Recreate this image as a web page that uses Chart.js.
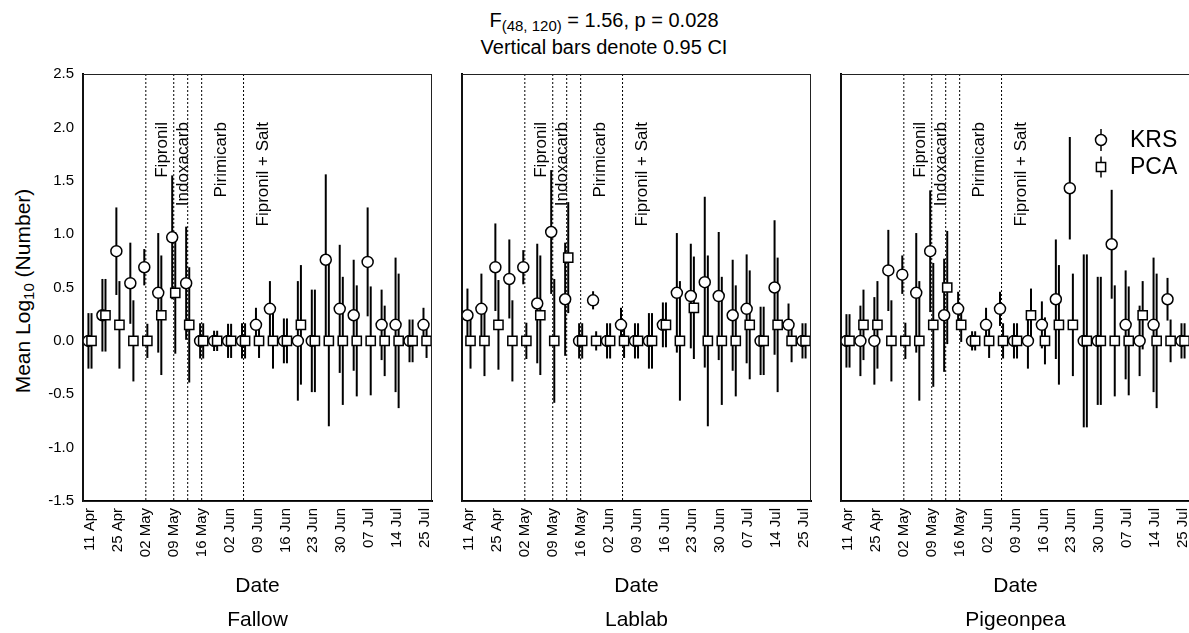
<!DOCTYPE html>
<html>
<head>
<meta charset="utf-8">
<title>Mean Log10 (Number) by sampling date</title>
<script src="https://cdn.jsdelivr.net/npm/chart.js"></script>
<style>
  html, body { margin: 0; padding: 0; background: #fff; overflow: hidden; }
  body { width: 1189px; height: 633px; position: relative; font-family: 'Liberation Sans', Arial, sans-serif; color: #000; }
  canvas { position: absolute; top: 64px; }
  #fallow { left: 0; }
  #lablab { left: 452px; }
  #pigeonpea { left: 831px; }
  .title { position: absolute; left: 0; width: 1208px; top: 7px; text-align: center; font-size: 20px; line-height: 27px; }
  .ytitle { position: absolute; left: 23px; top: 291px; transform: translate(-50%, -50%) rotate(-90deg); white-space: nowrap; font-size: 21px; line-height: 24px; }
  sub { font-size: 15px; vertical-align: -4px; line-height: 0; }
</style>
</head>
<body>
<div class="title">F<sub>(48, 120)</sub> = 1.56, p = 0.028<br>Vertical bars denote 0.95 CI</div>
<div class="ytitle">Mean Log<sub>10</sub> (Number)</div>
<canvas id="fallow" width="440" height="569"></canvas>
<canvas id="lablab" width="367" height="569"></canvas>
<canvas id="pigeonpea" width="367" height="569"></canvas>

<script>
// 25 sampling dates, only every second one is labelled on the axis
const nDates = 25;
const tickDates = ['11 Apr', '25 Apr', '02 May', '09 May', '16 May', '02 Jun', '09 Jun',
                   '16 Jun', '23 Jun', '30 Jun', '07 Jul', '14 Jul', '25 Jul'];

// insecticide applications (date index) and their names
const sprayDates = [4, 6, 7, 8, 11];
const sprayNames = ['Fipronil', 'Indoxacarb', 'Pirimicarb', 'Fipronil + Salt'];

// means and 95% CI half widths, log10(n + 1)
const fallowKrs   = [0, 0.24, 0.84, 0.54, 0.69, 0.45, 0.97, 0.54, 0, 0, 0, 0, 0.15, 0.30, 0, 0, 0, 0.76, 0.30, 0.24, 0.74, 0.15, 0.15, 0, 0.15];
const fallowKrsCi = [0.26, 0.34, 0.41, 0.38, 0.17, 0.56, 0.58, 0.53, 0.165, 0.095, 0.16, 0.165, 0.16, 0.26, 0.21, 0.56, 0.48, 0.80, 0.60, 0.52, 0.51, 0.33, 0.63, 0.20, 0.16];
const fallowPca   = [0, 0.24, 0.15, 0, 0, 0.24, 0.45, 0.15, 0, 0, 0, 0, 0, 0, 0, 0.15, 0, 0, 0, 0, 0, 0, 0, 0, 0];
const fallowPcaCi = [0.26, 0.34, 0.41, 0.38, 0.16, 0.56, 0.57, 0.54, 0.165, 0.095, 0.16, 0.165, 0.16, 0.26, 0.21, 0.56, 0.48, 0.80, 0.60, 0.52, 0.51, 0.33, 0.63, 0.20, 0.16];

const lablabKrs   = [0.24, 0.30, 0.69, 0.58, 0.69, 0.35, 1.02, 0.39, 0, 0.38, 0, 0.15, 0, 0, 0.15, 0.45, 0.42, 0.55, 0.42, 0.24, 0.30, 0, 0.50, 0.15, 0];
const lablabKrsCi = [0.25, 0.33, 0.41, 0.37, 0.16, 0.56, 0.58, 0.53, 0.165, 0.085, 0.165, 0.16, 0.165, 0.26, 0.21, 0.56, 0.49, 0.80, 0.60, 0.52, 0.51, 0.32, 0.63, 0.20, 0.165];
const lablabPca   = [0, 0, 0.15, 0, 0, 0.24, 0, 0.78, 0, 0, 0, 0, 0, 0, 0.15, 0, 0.31, 0, 0, 0, 0.15, 0, 0.15, 0, 0];
const lablabPcaCi = [0.26, 0.33, 0.42, 0.38, 0.17, 0.56, 0.58, 0.52, 0.165, 0.09, 0.165, 0.16, 0.165, 0.26, 0.21, 0.56, 0.48, 0.80, 0.60, 0.52, 0.51, 0.32, 0.63, 0.20, 0.165];

const pigeonKrs   = [0, 0, 0, 0.66, 0.62, 0.45, 0.84, 0.24, 0.30, 0, 0.15, 0.30, 0, 0, 0.15, 0.39, 1.43, 0, 0, 0.905, 0.15, 0, 0.15, 0.39, 0];
const pigeonKrsCi = [0.25, 0.33, 0.41, 0.38, 0.18, 0.56, 0.57, 0.53, 0.16, 0.09, 0.16, 0.16, 0.165, 0.26, 0.22, 0.56, 0.48, 0.81, 0.60, 0.51, 0.51, 0.33, 0.63, 0.20, 0.165];
const pigeonPca   = [0, 0.15, 0.15, 0, 0, 0, 0.15, 0.50, 0.15, 0, 0, 0, 0, 0.24, 0, 0.15, 0.15, 0, 0, 0, 0, 0.24, 0, 0, 0];
const pigeonPcaCi = [0.25, 0.33, 0.41, 0.38, 0.17, 0.56, 0.58, 0.53, 0.16, 0.09, 0.16, 0.165, 0.165, 0.25, 0.22, 0.56, 0.48, 0.81, 0.60, 0.52, 0.51, 0.32, 0.63, 0.20, 0.165];

// layout
const FONT = "'Liberation Sans', Arial, sans-serif";
const DODGE = 0.11;                        // KRS left, PCA right of the date
const sprayLabelX = [5.2, 6.65, 9.4, 12.4];
const sprayLabelTop = 2.05;

Chart.defaults.font.family = FONT;
Chart.defaults.color = '#000';

const sprays = {
  id: 'sprays',
  beforeDatasetsDraw(chart) {
    const { ctx, chartArea: a, scales: { x, y } } = chart;
    ctx.save();
    ctx.strokeStyle = '#000';
    ctx.lineWidth = 1;
    ctx.setLineDash([2, 2]);
    sprayDates.forEach(d => {
      const px = x.getPixelForValue(d);
      ctx.beginPath();
      ctx.moveTo(px, a.top);
      ctx.lineTo(px, a.bottom);
      ctx.stroke();
    });
    ctx.setLineDash([]);
    ctx.fillStyle = '#000';
    ctx.font = '17px ' + FONT;
    ctx.textAlign = 'right';
    ctx.textBaseline = 'middle';
    sprayNames.forEach((name, i) => {
      ctx.save();
      ctx.translate(x.getPixelForValue(sprayLabelX[i]), y.getPixelForValue(sprayLabelTop));
      ctx.rotate(-Math.PI / 2);
      ctx.fillText(name, 0, 0);
      ctx.restore();
    });
    ctx.restore();
  }
};

// vertical CI bars, drawn under the markers
const whiskers = {
  id: 'whiskers',
  beforeDatasetsDraw(chart) {
    const { ctx, scales: { y } } = chart;
    ctx.save();
    ctx.strokeStyle = '#000';
    ctx.lineWidth = 2;
    chart.data.datasets.forEach((ds, di) => {
      chart.getDatasetMeta(di).data.forEach((pt, i) => {
        const m = ds.data[i].y, h = ds.ci[i];
        ctx.beginPath();
        ctx.moveTo(pt.x, y.getPixelForValue(m + h));
        ctx.lineTo(pt.x, y.getPixelForValue(m - h));
        ctx.stroke();
      });
    });
    ctx.restore();
  }
};

const frame = {
  id: 'frame',
  afterDatasetsDraw(chart) {
    const { ctx, chartArea: a } = chart;
    ctx.save();
    ctx.strokeStyle = '#222';
    ctx.lineWidth = 1;
    ctx.strokeRect(a.left, a.top + 0.5, a.right - a.left - 0.5, a.bottom - a.top);
    ctx.restore();
  }
};

const keyBox = {
  id: 'keyBox',
  afterDraw(chart) {
    const { ctx, chartArea: a } = chart;
    const mx = a.left + 260, tx = a.left + 289;
    ctx.save();
    ctx.strokeStyle = '#000';
    ctx.fillStyle = '#000';
    ctx.lineWidth = 1.5;
    // KRS
    let cy = a.top + 66;
    ctx.beginPath(); ctx.moveTo(mx, cy - 11); ctx.lineTo(mx, cy + 11); ctx.stroke();
    ctx.beginPath(); ctx.arc(mx, cy, 5.5, 0, Math.PI * 2);
    ctx.fillStyle = '#fff'; ctx.fill(); ctx.stroke();
    // PCA
    cy = a.top + 93;
    ctx.beginPath(); ctx.moveTo(mx, cy - 10.5); ctx.lineTo(mx, cy + 10.5); ctx.stroke();
    ctx.beginPath(); ctx.rect(mx - 4.6, cy - 4.6, 9.2, 9.2);
    ctx.fill(); ctx.stroke();
    ctx.fillStyle = '#000';
    ctx.font = '23px ' + FONT;
    ctx.textAlign = 'left';
    ctx.textBaseline = 'middle';
    ctx.fillText('KRS', tx, a.top + 67);
    ctx.fillText('PCA', tx, a.top + 94);
    ctx.restore();
  }
};

function points(means, shift) {
  return means.map((v, i) => ({ x: i + shift, y: v }));
}

function makePanel(id, name, krs, krsCi, pca, pcaCi, withYTicks, withKey) {
  const plugins = [sprays, whiskers, frame];
  if (withKey) plugins.push(keyBox);

  return new Chart(document.getElementById(id), {
    type: 'scatter',
    data: {
      datasets: [{
        label: 'KRS',
        data: points(krs, -DODGE),
        ci: krsCi,
        order: 1,
        pointStyle: 'circle',
        pointRadius: 5.5,
        pointBackgroundColor: '#fff',
        pointBorderColor: '#000',
        pointBorderWidth: 1.5
      }, {
        label: 'PCA',
        data: points(pca, DODGE),
        ci: pcaCi,
        order: 0,
        pointStyle: 'rect',
        pointRadius: 6.5,
        pointBackgroundColor: '#fff',
        pointBorderColor: '#000',
        pointBorderWidth: 1.5
      }]
    },
    options: {
      responsive: false,
      animation: false,
      events: [],
      layout: { padding: { top: 10, right: 6, bottom: 0, left: 0 } },
      plugins: {
        legend: { display: false },
        tooltip: { enabled: false },
        title: {
          display: true,
          text: name,
          position: 'bottom',
          fullSize: false,
          padding: 0,
          color: '#000',
          font: { size: 21, weight: 'normal', lineHeight: 1.2 }
        }
      },
      scales: {
        x: {
          type: 'linear',
          min: -0.5,
          max: nDates - 0.5,
          grid: { display: false, drawTicks: false },
          border: { display: true, width: 2, color: '#000' },
          afterBuildTicks: (axis) => {
            axis.ticks = tickDates.map((_, i) => ({ value: i * 2 }));
          },
          afterFit: (axis) => {
            axis.height = 106.8;
            axis.paddingLeft = 0;
            axis.paddingRight = 0;
          },
          ticks: {
            autoSkip: false,
            minRotation: 90,
            maxRotation: 90,
            padding: 7,
            color: '#000',
            font: { size: 15 },
            callback: (v) => tickDates[v / 2]
          },
          title: {
            display: true,
            text: 'Date',
            color: '#000',
            font: { size: 21 },
            padding: { top: 0, bottom: 9 }
          }
        },
        y: {
          min: -1.5,
          max: 2.5,
          grid: { display: false, drawTicks: false },
          border: { display: true, width: 2, color: '#000' },
          afterFit: (axis) => {
            axis.width = withYTicks ? 83 : 10;
            axis.paddingTop = 0;
            axis.paddingBottom = 0;
          },
          ticks: {
            display: withYTicks,
            stepSize: 0.5,
            padding: 9,
            color: '#000',
            font: { size: 15 },
            callback: (v) => v.toFixed(1)
          }
        }
      }
    },
    plugins
  });
}

makePanel('fallow', 'Fallow', fallowKrs, fallowKrsCi, fallowPca, fallowPcaCi, true, false);
makePanel('lablab', 'Lablab', lablabKrs, lablabKrsCi, lablabPca, lablabPcaCi, false, false);
makePanel('pigeonpea', 'Pigeonpea', pigeonKrs, pigeonKrsCi, pigeonPca, pigeonPcaCi, false, true);
</script>
</body>
</html>
